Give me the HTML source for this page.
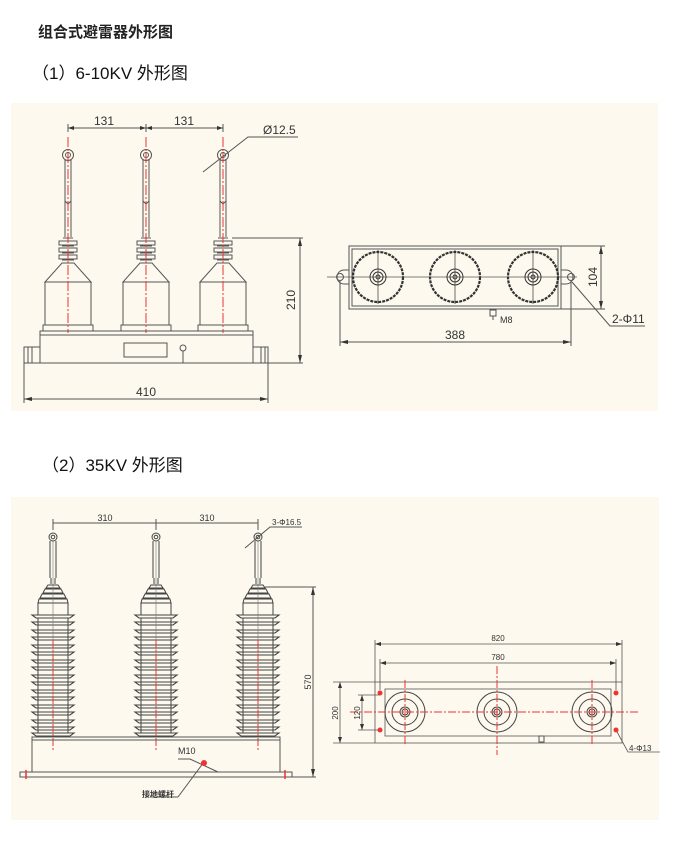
<!DOCTYPE html>
<html><head><meta charset="utf-8"><style>
html,body{margin:0;padding:0;background:#fff;width:680px;height:849px;overflow:hidden}
svg{display:block}
text{font-family:"Liberation Sans","Noto Sans CJK SC",sans-serif}
</style></head><body>
<svg width="680" height="849" viewBox="0 0 680 849" xmlns="http://www.w3.org/2000/svg">
<defs>
<g id="a1" fill="none" stroke="#555" stroke-width="1">
  <circle cx="0" cy="155" r="5.5"/><circle cx="0" cy="155" r="2.5"/>
  <path d="M-3,160 L-3,237 M3,160 L3,237"/>
  <path d="M-5,238 h10 M-9,241 h18 v4 h-18z M-6,246 h12 M-9,248 h18 v4 h-18z M-6,253 h12 M-9,255 h18 v4 h-18z M-6,260 h12"/>
  <path d="M-6,263 h12 L23,282 L-23,282 Z"/>
  <rect x="-23" y="282" width="46" height="43"/>
  <rect x="-25" y="325" width="50" height="6"/>
  <path d="M-3,201 l3,3 l3,-3" />
  <line x1="0" y1="137" x2="0" y2="333" stroke="#e33" stroke-dasharray="10 2 2 2"/>
</g>
<g id="a2" fill="none" stroke="#444" stroke-width="1">
  <circle cx="0" cy="537" r="4"/><circle cx="0" cy="537" r="1.8"/>
  <path d="M-3,541 L-3,578 M3,541 L3,578 M-2,578 v6 M2,578 v6"/>
  <path d="M-5,585 h10 L7,588 h-14z M-8,589 h16 L10,593 h-20z M-11,594 h22 l2,4 h-26z M-14,599 h28 l1,4 h-30z"/>
  <rect x="-15" y="603" width="30" height="12"/>
  <path fill="#fdf9ee" stroke-width="1.1" d="M-21,615 h42 l-4,3 h-34z M-21,622 h42 l-4,3 h-34z M-21,630 h42 l-4,3 h-34z M-21,637 h42 l-4,3 h-34z M-21,645 h42 l-4,3 h-34z M-21,652 h42 l-4,3 h-34z M-21,660 h42 l-4,3 h-34z M-21,667 h42 l-4,3 h-34z M-21,675 h42 l-4,3 h-34z M-21,682 h42 l-4,3 h-34z M-21,690 h42 l-4,3 h-34z M-21,697 h42 l-4,3 h-34z M-21,705 h42 l-4,3 h-34z M-21,712 h42 l-4,3 h-34z M-21,720 h42 l-4,3 h-34z M-21,727 h42 l-4,3 h-34z M-21,733 h42 l-4,3 h-34z"/>
  <path d="M-15,618 V733 M15,618 V733"/>
  <line x1="0" y1="541" x2="0" y2="735" stroke="#777" stroke-width="0.6"/>
  <line x1="0" y1="640" x2="0" y2="752" stroke="#e33" stroke-dasharray="8 2 2 2"/>
</g>
<g id="c1" fill="none" stroke="#333">
  <circle r="25" stroke-width="2.2" stroke-dasharray="3 1"/>
  <circle r="8"/><circle r="5"/><circle r="2"/>
  <line x1="0" y1="-27" x2="0" y2="27" stroke-width="0.7"/>
</g>
<g id="c2" fill="none" stroke="#444">
  <circle r="20"/><circle r="13"/><circle r="5"/><circle r="3"/>
</g>
</defs>

<text x="38" y="37" font-size="15" font-weight="bold" fill="#222">组合式避雷器外形图</text>
<text x="32" y="79" font-size="17" fill="#111">（1）6-10KV 外形图</text>
<text x="42" y="471" font-size="17" fill="#111">（2）35KV 外形图</text>

<rect x="11" y="103" width="647" height="308" fill="#fdf9ee"/>
<rect x="11" y="497" width="648" height="323" fill="#fdf9ee"/>

<use href="#a1" x="68"/><use href="#a1" x="146"/><use href="#a1" x="223"/>
<g fill="none" stroke="#555" stroke-width="1">
  <rect x="40" y="331" width="213" height="32"/><line x1="40" y1="335" x2="253" y2="335"/>
  <rect x="24" y="347" width="16" height="16"/><path d="M28,347v16M32,347v16"/>
  <rect x="253" y="347" width="15" height="16"/><path d="M261,347v16M265,347v16"/>
  <rect x="124" y="343" width="43" height="14"/>
  <circle cx="183" cy="348" r="3"/><line x1="183" y1="351" x2="183" y2="363"/>
  <path d="M68,128 H223 M68,124 V132 M146,124 V132 M223,124 V132"/>
  <path d="M232,238 H303 M268,363 H303 M300,238 V363"/>
  <path d="M24,363 V403 M268,363 V403 M24,399 H268"/>
  <path d="M203,172 L248,137 H298"/>
</g>
<g fill="#333"><path d="M300,238 l-2,8 h4z M300,363 l-2,-8 h4z M24,399 l8,-2 v4z M268,399 l-8,-2 v4z M68,128 l6,-2 v4z M223,128 l-6,-2 v4z M146,128 l-6,-2v4z M146,128 l6,-2v4z"/></g>
<text x="104" y="125" font-size="12" text-anchor="middle" fill="#333">131</text>
<text x="184" y="125" font-size="12" text-anchor="middle" fill="#333">131</text>
<text x="263" y="134" font-size="12" fill="#333">Ø12.5</text>
<text x="146" y="396" font-size="12" text-anchor="middle" fill="#333">410</text>
<text transform="translate(295,300) rotate(-90)" font-size="12" text-anchor="middle" fill="#333">210</text>

<g fill="none" stroke="#555" stroke-width="1">
  <rect x="349" y="246" width="212" height="63"/><rect x="352" y="249" width="206" height="57"/>
  <path d="M349,270 h-5 a7,7 0 0 0 0,14 h5 M561,270 h5 a7,7 0 0 1 0,14 h-5"/>
  <circle cx="340" cy="277" r="3.5"/><circle cx="571" cy="277" r="3.5"/>
  <line x1="327" y1="277" x2="577" y2="277" stroke-width="0.7"/>
  <path d="M340,281 V346 M571,281 V346 M340,342 H571"/>
  <path d="M561,246 H605 M561,309 H605 M601,246 V309"/>
  <path d="M572,282 L610,326 H645"/>
  <rect x="490" y="310" width="6" height="6"/><line x1="493" y1="316" x2="493" y2="320"/>
</g>
<use href="#c1" x="378" y="277"/><use href="#c1" x="455" y="277"/><use href="#c1" x="533" y="277"/>
<g fill="#333"><path d="M340,342 l8,-2v4z M571,342 l-8,-2v4z M601,246 l-2,8h4z M601,309 l-2,-8h4z"/></g>
<text x="455" y="339" font-size="12" text-anchor="middle" fill="#333">388</text>
<text x="500" y="323" font-size="9" fill="#333">M8</text>
<text x="612" y="323" font-size="12" fill="#333">2-Φ11</text>
<text transform="translate(597,277) rotate(-90)" font-size="12" text-anchor="middle" fill="#333">104</text>

<use href="#a2" x="53"/><use href="#a2" x="156"/><use href="#a2" x="258"/>
<g fill="none" stroke="#555" stroke-width="1">
  <rect x="32" y="737" width="248" height="35"/><line x1="32" y1="740" x2="280" y2="740"/>
  <rect x="20" y="772" width="272" height="5"/>
  <path d="M53,523 H258 M53,519 V530 M156,519 V530 M258,519 V530"/>
  <path d="M265,587 H316 M292,777 H316 M313,587 V777"/>
  <path d="M245,548 L270,527 H302"/>
  <path d="M178,759 H190 L218,772 M178,797 L204,762"/>
  <line x1="150" y1="797" x2="178" y2="797"/>
</g>
<g stroke="#e33" stroke-width="1.5"><path d="M26,770v9 M285,770v9"/></g>
<circle cx="204" cy="763" r="3" fill="#e33"/>
<g fill="#333"><path d="M313,587 l-2,8h4z M313,777 l-2,-8h4z"/></g>
<text x="105" y="521" font-size="9" text-anchor="middle" fill="#333">310</text>
<text x="207" y="521" font-size="9" text-anchor="middle" fill="#333">310</text>
<text x="272" y="525" font-size="8" fill="#333">3-Φ16.5</text>
<text x="178" y="754" font-size="9" fill="#333">M10</text>
<text x="142" y="797" font-size="8" font-weight="bold" fill="#333">接地螺杆</text>
<text transform="translate(311,682) rotate(-90)" font-size="9" text-anchor="middle" fill="#333">570</text>

<g fill="none" stroke="#555" stroke-width="0.8">
  <rect x="375" y="682" width="247" height="61"/>
  <rect x="385" y="689" width="226" height="47"/>
  <path d="M375,644 H622 M375,640 V682 M622,640 V682"/>
  <path d="M380,663 H616 M380,659 V690 M616,659 V690"/>
  <path d="M333,682 H375 M333,743 H375 M340,682 V743"/>
  <path d="M358,695 H380 M358,730 H380 M362,695 V730"/>
  <path d="M616,730 L628,752 H660"/>
</g>
<use href="#c2" x="405" y="712"/><use href="#c2" x="497" y="712"/><use href="#c2" x="592" y="712"/>
<g stroke="#e33" stroke-width="1" stroke-dasharray="8 2 2 2">
  <line x1="350" y1="712" x2="640" y2="712"/>
  <line x1="405" y1="680" x2="405" y2="745"/>
  <line x1="497" y1="666" x2="497" y2="755"/>
  <line x1="592" y1="680" x2="592" y2="745"/>
</g>
<g fill="#e33"><circle cx="380" cy="693" r="2.5"/><circle cx="380" cy="730" r="2.5"/><circle cx="616" cy="693" r="2.5"/><circle cx="616" cy="730" r="2.5"/></g>
<rect x="539" y="736" width="5" height="6" fill="none" stroke="#555"/>
<g fill="#333"><path d="M375,644 l6,-2v4z M622,644 l-6,-2v4z M380,663 l6,-2v4z M616,663 l-6,-2v4z M340,682 l-2,6h4z M340,743 l-2,-6h4z M362,695 l-2,6h4z M362,730 l-2,-6h4z"/></g>
<text x="498" y="641" font-size="8" text-anchor="middle" fill="#333">820</text>
<text x="498" y="660" font-size="8" text-anchor="middle" fill="#333">780</text>
<text x="629" y="751" font-size="8" fill="#333">4-Φ13</text>
<text transform="translate(338,713) rotate(-90)" font-size="8" text-anchor="middle" fill="#333">200</text>
<text transform="translate(360,713) rotate(-90)" font-size="8" text-anchor="middle" fill="#333">120</text>
</svg>
</body></html>
